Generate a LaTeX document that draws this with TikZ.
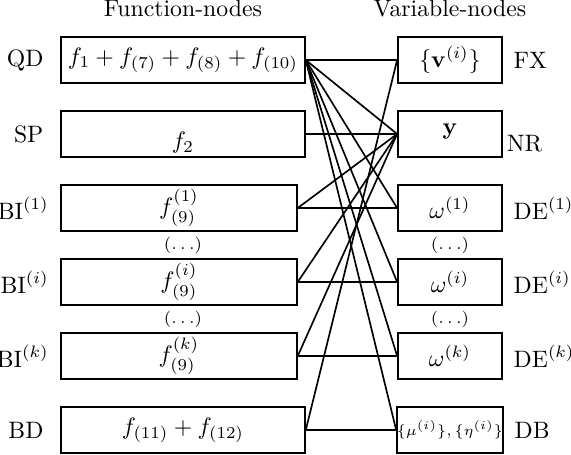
\documentclass[tikz,border=0pt]{standalone}
\usepackage{amsmath,amssymb}
\usetikzlibrary{positioning,calc}
\begin{document}
\begin{tikzpicture}[x=0.0148cm,y=-0.0148cm,line width=0.7pt,
  fbox/.style={draw,inner sep=1pt,minimum height=0.68cm,minimum width=3.61cm},
  bibox/.style={fbox,minimum width=3.49cm},
  vbox/.style={draw,inner sep=1pt,minimum height=0.68cm,minimum width=1.54cm},
  dots/.style={font=\scriptsize}]
\useasboundingbox (0,0) rectangle (571,455);
% function-nodes
\node[fbox] (qd) at (183,60) {$f_1 + f_{(7)} + f_{(8)} + f_{(10)}$};
\node[fbox] (sp) at (183,134) {\raisebox{-6.3pt}[0pt][0pt]{$f_2$}};
\node[bibox] (bi1) at (179,208) {$f^{(1)}_{(9)}$};
\node[bibox] (bii) at (179,282) {$f^{(i)}_{(9)}$};
\node[bibox] (bik) at (179,356) {$f^{(k)}_{(9)}$};
\node[fbox] (bd) at (183,430) {$f_{(11)} + f_{(12)}$};
\node[left=3.4pt of qd] (qdlab) {QD};
\node[left=3.4pt of sp] (splab) {SP};
\node[left=1.2pt of bi1] (bi1lab) {$\mathrm{BI}^{(1)}$};
\node[left=1.2pt of bii] (biilab) {$\mathrm{BI}^{(i)}$};
\node[left=1.2pt of bik] (biklab) {$\mathrm{BI}^{(k)}$};
\node[left=3.4pt of bd] (bdlab) {BD};
\node[above=4.3pt of qd] (ftitle) {Function-nodes};
\node[dots] (fdots1) at (183,245) {$(\ldots)$};
\node[dots] (fdots2) at (183,319) {$(\ldots)$};
% variable-nodes
\node[vbox] (fx) at (450,60) {$\{\mathbf{v}^{(i)}\}$};
\node[vbox] (ny) at (450,134) {\raisebox{0pt}[0pt][0pt]{$\mathbf{y}$}};
\node[vbox] (de1) at (450,208) {$\omega^{(1)}$};
\node[vbox] (dei) at (450,282) {$\omega^{(i)}$};
\node[vbox] (dek) at (450,356) {$\omega^{(k)}$};
\node[vbox,inner sep=0pt] (db) at (450,430) {\fontsize{5.6pt}{6.5pt}\selectfont$\{\mu^{(i)}\},\{\eta^{(i)}\}$};
\node[right=0.9pt of fx] (fxlab) {FX};
\node[right=-2pt of ny,yshift=-4.2pt] (nrlab) {NR};
\node[right=0.9pt of de1] (de1lab) {$\mathrm{DE}^{(1)}$};
\node[right=0.9pt of dei] (deilab) {$\mathrm{DE}^{(i)}$};
\node[right=0.9pt of dek] (deklab) {$\mathrm{DE}^{(k)}$};
\node[right=0.9pt of db] (dblab) {DB};
\node[above=4.3pt of fx] (vtitle) {Variable-nodes};
\node[dots] (vdots1) at (450,245) {$(\ldots)$};
\node[dots] (vdots2) at (450,319) {$(\ldots)$};
% edges
\foreach \v in {fx,ny,de1,dei,dek,db}
  \draw (qd.east) -- (\v.west);
\draw (sp.east) -- (ny.west);
\foreach \b/\d in {bi1/de1,bii/dei,bik/dek}
  \draw (\b.east) -- (\d.west) (\b.east) -- (ny.west);
\draw (bd.east) -- (db.west) (bd.east) -- (fx.west);
\end{tikzpicture}
\end{document}
